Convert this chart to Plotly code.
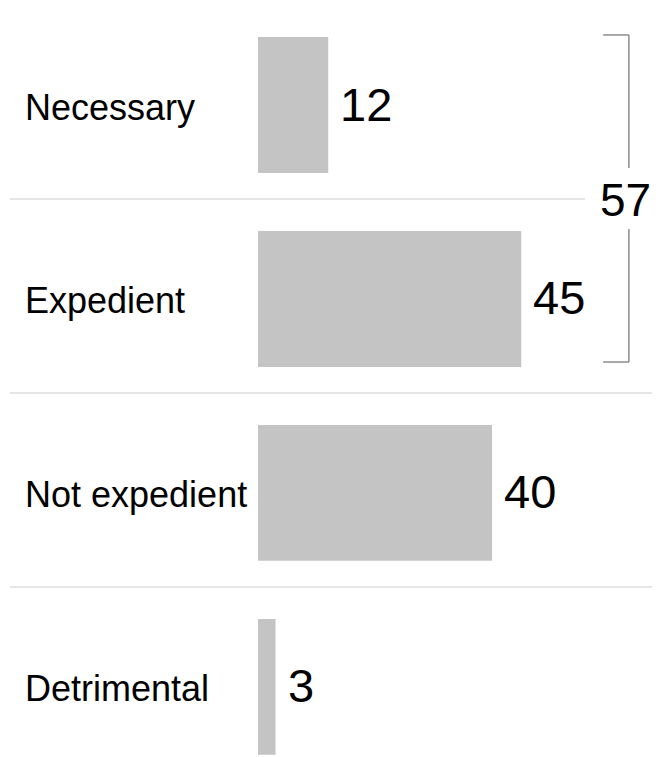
import plotly.graph_objects as go

# Data
categories = ["Necessary", "Expedient", "Not expedient", "Detrimental"]
values = [12, 45, 40, 3]
bracket_total = 57  # Necessary + Expedient

font_family = "Arial, Liberation Sans, sans-serif"

fig = go.Figure(go.Bar(
    x=values,
    y=categories,
    orientation="h",
    marker=dict(color="#c4c4c4", line=dict(width=0)),
    width=0.7,
    hoverinfo="skip",
))

# Value labels right of each bar
for cat, val in zip(categories, values):
    fig.add_annotation(x=val, y=cat, text=str(val), showarrow=False,
                       xanchor="left", yanchor="middle", xshift=10, yshift=1,
                       font=dict(size=47, color="black", family=font_family))

# Category labels on the left
for cat in categories:
    fig.add_annotation(x=0.0233, xref="paper", y=cat, text=cat, showarrow=False,
                       xanchor="left", yanchor="middle", yshift=-2,
                       font=dict(size=36, color="black", family=font_family))

# Separator lines between categories
for i in range(len(categories) - 1):
    x1 = 0.896 if i == 0 else 1.0
    fig.add_shape(type="line", xref="paper", x0=0.003, x1=x1,
                  y0=i + 0.485, y1=i + 0.485,
                  line=dict(color="#dcdcdc", width=1.5))

# Bracket spanning the first two categories
bx, bx_tick = 63.4, 59.0
line_style = dict(color="#8c8c8c", width=1.5)
fig.add_shape(type="line", x0=bx_tick, x1=bx, y0=-0.361, y1=-0.361, line=line_style)
fig.add_shape(type="line", x0=bx, x1=bx, y0=-0.361, y1=0.325, line=line_style)
fig.add_shape(type="line", x0=bx, x1=bx, y0=0.639, y1=1.325, line=line_style)
fig.add_shape(type="line", x0=bx_tick, x1=bx, y0=1.325, y1=1.325, line=line_style)
fig.add_annotation(x=bx, y=0.49, text=str(bracket_total), showarrow=False,
                   xanchor="center", yanchor="middle", xshift=-3,
                   font=dict(size=46, color="black", family=font_family))

fig.update_layout(
    width=644, height=749,
    margin=dict(l=0, r=0, t=0, b=0),
    plot_bgcolor="white", paper_bgcolor="white",
    showlegend=False,
    xaxis=dict(range=[-42.74, 67.35], visible=False),
    yaxis=dict(range=[3.361, -0.5], visible=False,
               categoryorder="array", categoryarray=categories),
)

fig.write_html("out.html")
